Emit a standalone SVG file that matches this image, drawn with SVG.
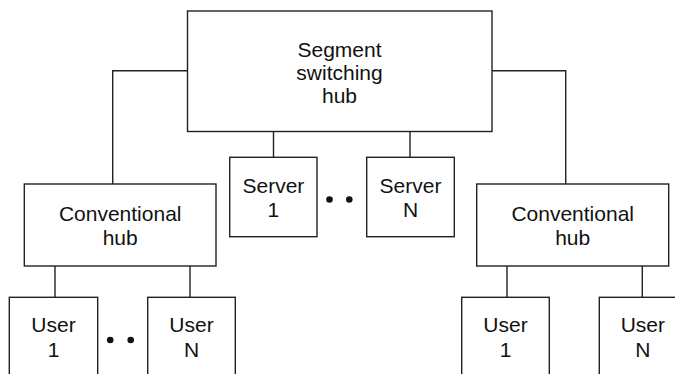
<svg xmlns="http://www.w3.org/2000/svg" width="675" height="374" viewBox="0 0 675 374">
<style>
.box{fill:#fff;stroke:#222;stroke-width:1.4}
.con{fill:none;stroke:#222;stroke-width:1.4}
text{font-family:"Liberation Sans",Arial,sans-serif;font-size:21px;fill:#111;text-anchor:middle}
.dot{fill:#111}
</style>
<rect width="675" height="374" fill="#fff"/>
<g id="connectors">
<polyline class="con" points="187.5,70.7 112.7,70.7 112.7,184"/>
<polyline class="con" points="492,70.7 565.7,70.7 565.7,184"/>
<line class="con" x1="273.5" y1="131.5" x2="273.5" y2="157.3"/>
<line class="con" x1="410" y1="131.5" x2="410" y2="157.3"/>
<line class="con" x1="55" y1="266" x2="55" y2="297.3"/>
<line class="con" x1="190" y1="266" x2="190" y2="297.3"/>
<line class="con" x1="507" y1="266" x2="507" y2="297.3"/>
<line class="con" x1="642.3" y1="266" x2="642.3" y2="297.3"/>
</g>
<g id="segment-hub">
<rect class="box" x="187.5" y="11" width="304.5" height="120.5"/>
<text x="339.5" y="57.3">Segment</text>
<text x="339.5" y="80">switching</text>
<text x="339.5" y="102.7">hub</text>
</g>
<g id="server-1">
<rect class="box" x="229.7" y="157.3" width="87.3" height="79.4"/>
<text x="273.4" y="193.3">Server</text>
<text x="273.4" y="216.7">1</text>
</g>
<g id="server-dots">
<circle class="dot" cx="329.5" cy="199.5" r="3.3"/>
<circle class="dot" cx="349.3" cy="199.5" r="3.3"/>
</g>
<g id="server-n">
<rect class="box" x="366.7" y="157.3" width="87.6" height="79.4"/>
<text x="410.5" y="193.3">Server</text>
<text x="410.5" y="216.7">N</text>
</g>
<g id="left-hub">
<rect class="box" x="24.3" y="184" width="191.7" height="82"/>
<text x="120.2" y="220.5">Conventional</text>
<text x="120.2" y="245">hub</text>
</g>
<g id="right-hub">
<rect class="box" x="476.7" y="184" width="192" height="82"/>
<text x="572.7" y="220.5">Conventional</text>
<text x="572.7" y="245">hub</text>
</g>
<g id="left-user-1">
<rect class="box" x="9.3" y="297.3" width="88.4" height="90"/>
<text x="53.5" y="331.7">User</text>
<text x="53.5" y="356.7">1</text>
</g>
<g id="left-user-dots">
<circle class="dot" cx="110.2" cy="340" r="3.3"/>
<circle class="dot" cx="130.7" cy="340" r="3.3"/>
</g>
<g id="left-user-n">
<rect class="box" x="147.7" y="297.3" width="87.6" height="90"/>
<text x="191.5" y="331.7">User</text>
<text x="191.5" y="356.7">N</text>
</g>
<g id="right-user-1">
<rect class="box" x="461.7" y="297.3" width="87.6" height="90"/>
<text x="505.5" y="331.7">User</text>
<text x="505.5" y="356.7">1</text>
</g>
<g id="right-user-n">
<rect class="box" x="599.3" y="297.3" width="87.6" height="90"/>
<text x="642.8" y="331.7">User</text>
<text x="642.8" y="356.7">N</text>
</g>
</svg>
